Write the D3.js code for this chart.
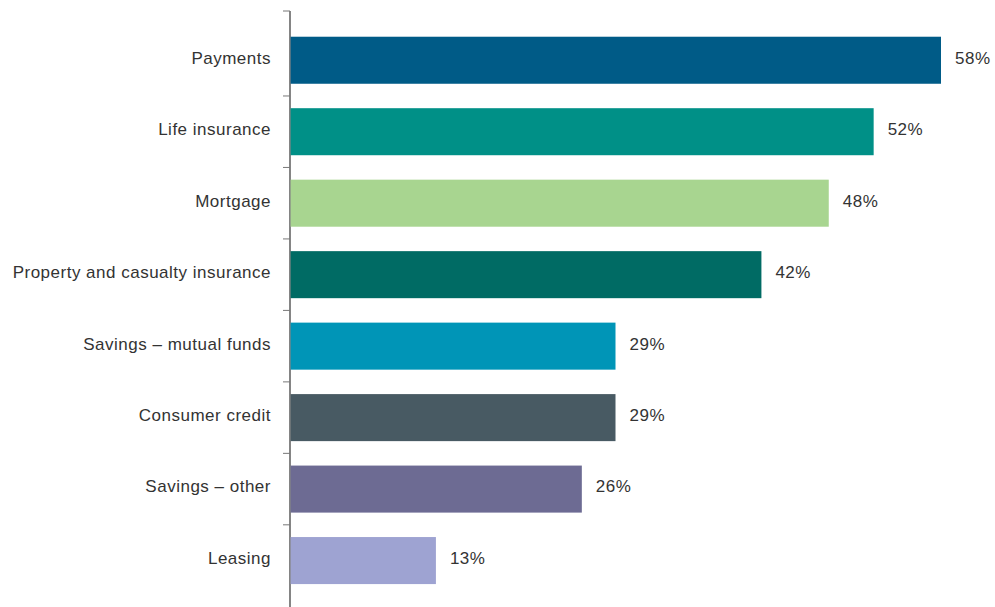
<!DOCTYPE html>
<html>
<head>
<meta charset="utf-8">
<script src="https://cdn.jsdelivr.net/npm/d3@7/dist/d3.min.js"></script>
<style>
  html, body { margin: 0; padding: 0; background: #fff; }
  svg { display: block; }
  text { font-family: "Liberation Sans", Arial, Helvetica, sans-serif; letter-spacing: 0.5px; }
</style>
</head>
<body>
<svg id="chart" width="995" height="607"></svg>
<script>
const categories = [
  "Payments",
  "Life insurance",
  "Mortgage",
  "Property and casualty insurance",
  "Savings \u2013 mutual funds",
  "Consumer credit",
  "Savings \u2013 other",
  "Leasing"
];
const values = [58, 52, 48, 42, 29, 29, 26, 13];
const colors = ["#005b87", "#009087", "#a8d590", "#006b64", "#0095b7", "#485a63", "#6d6b93", "#9ea3d2"];

const svg = d3.select("#chart");
const axisX = 290;

const x = d3.scaleLinear().domain([0, 58]).range([axisX, 941]);
const y = d3.scaleBand()
  .domain(categories)
  .range([24.5, 596.3])
  .paddingInner(0.342)
  .paddingOuter(0.171);

// vertical axis line
svg.append("line")
  .attr("x1", axisX).attr("x2", axisX)
  .attr("y1", 11).attr("y2", 607)
  .attr("stroke", "#333").attr("stroke-width", 1.2);

// tick marks: top end plus the boundaries between categories
const step = y.step();
const tickYs = [11].concat(categories.slice(1).map(c => y(c) - (step - y.bandwidth()) / 2));
svg.selectAll("line.tick")
  .data(tickYs)
  .enter().append("line")
  .attr("class", "tick")
  .attr("x1", axisX - 7).attr("x2", axisX)
  .attr("y1", d => d).attr("y2", d => d)
  .attr("stroke", "#777").attr("stroke-width", 1);

// bars
svg.selectAll("rect.bar")
  .data(categories)
  .enter().append("rect")
  .attr("class", "bar")
  .attr("x", x(0) + 0.6)
  .attr("y", d => y(d))
  .attr("width", (d, i) => x(values[i]) - x(0) - 0.6)
  .attr("height", y.bandwidth())
  .attr("fill", (d, i) => colors[i]);

// category labels
svg.selectAll("text.cat")
  .data(categories)
  .enter().append("text")
  .attr("class", "cat")
  .attr("x", 271)
  .attr("y", d => y(d) + y.bandwidth() / 2)
  .attr("dy", "0.2em")
  .attr("text-anchor", "end")
  .attr("font-size", 17)
  .attr("fill", "#333")
  .text(d => d);

// value labels
svg.selectAll("text.val")
  .data(categories)
  .enter().append("text")
  .attr("class", "val")
  .attr("x", (d, i) => x(values[i]) + 14)
  .attr("y", d => y(d) + y.bandwidth() / 2)
  .attr("dy", "0.2em")
  .attr("font-size", 17)
  .attr("fill", "#333")
  .text((d, i) => values[i] + "%");
</script>
</body>
</html>
